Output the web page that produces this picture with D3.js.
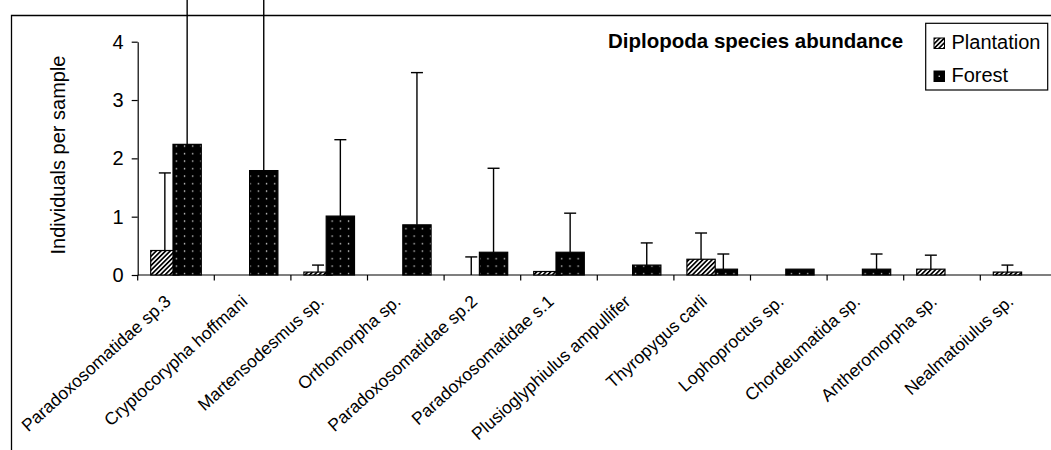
<!DOCTYPE html>
<html>
<head>
<meta charset="utf-8">
<script src="https://cdnjs.cloudflare.com/ajax/libs/d3/7.8.5/d3.min.js"></script>
<style>
  body { margin: 0; background: #fff; }
  svg { display: block; font-family: "Liberation Sans", Arial, sans-serif; }
</style>
</head>
<body>
<svg id="svg"></svg>
<script>

const width = 1051;
const height = 450;

// data
const categories = [
	"Paradoxosomatidae sp.3", "Cryptocorypha hoffmani", "Martensodesmus sp.",
	"Orthomorpha sp.", "Paradoxosomatidae sp.2", "Paradoxosomatidae s.1",
	"Plusioglyphiulus ampullifer", "Thyropygus carli", "Lophoproctus sp.",
	"Chordeumatida sp.", "Antheromorpha sp.", "Nealmatoiulus sp."
];
const plantation    = [0.42, 0, 0.05, 0, 0, 0.06, 0, 0.27, 0, 0, 0.10, 0.05];
const plantationErr = [1.33, 0, 0.12, 0, 0.31, 0, 0, 0.45, 0, 0, 0.24, 0.12];
const forest        = [2.24, 1.79, 1.01, 0.86, 0.39, 0.39, 0.17, 0.10, 0.10, 0.10, 0, 0];
const forestErr     = [3.40, 3.80, 1.31, 2.61, 1.44, 0.67, 0.38, 0.26, 0, 0.26, 0, 0];
const yTicks = [0, 1, 2, 3, 4];
const seriesNames = ["Plantation", "Forest"];
const title = "Diplopoda species abundance";

const svg = d3.select("#svg")
			.attr("width", width)
			.attr("height", height);

// patterns
const defs = svg.append("defs");
const hatch = defs.append("pattern")
			.attr("id", "hatch")
			.attr("patternUnits", "userSpaceOnUse")
			.attr("width", 3.3)
			.attr("height", 3.3)
			.attr("patternTransform", "rotate(45)");
hatch.append("rect").attr("width", 3.3).attr("height", 3.3).attr("fill", "white");
hatch.append("rect").attr("width", 1.7).attr("height", 3.3).attr("fill", "black");

const dots = defs.append("pattern")
			.attr("id", "dots")
			.attr("patternUnits", "userSpaceOnUse")
			.attr("width", 8.2)
			.attr("height", 7.5);
dots.append("rect").attr("width", 8.2).attr("height", 7.5).attr("fill", "black");
dots.append("rect").attr("x", 3.5).attr("y", 3).attr("width", 1.3).attr("height", 1.3).attr("fill", "#e8e8e8");

const fills = ["url(#hatch)", "url(#dots)"];

// chart frame (runs off the right and bottom of the picture)
svg.append("path")
	.attr("d", `M11.5,${height + 5} V15.5 H${width + 5}`)
	.attr("fill", "none")
	.attr("stroke", "black")
	.attr("stroke-width", 1.3);

const x = d3.scaleBand()
			.domain(categories)
			.range([137.7, 137.7 + 76.6 * categories.length])
			.padding(0);

const y = d3.scaleLinear()
			.domain([0, 4])
			.range([275, 41.7]);

const barW = 28.3;
const overlap = 6;

// y axis
const yAxis = svg.append("g")
			.attr("transform", "translate(137.7,0)")
			.call(d3.axisLeft(y).tickValues(yTicks).tickFormat(d3.format("d")).tickSize(6).tickSizeOuter(0).tickPadding(8));
yAxis.select(".domain").attr("stroke-width", 1.2);
yAxis.selectAll(".tick line").attr("stroke-width", 1.2);
yAxis.selectAll("text").style("font-size", "20px").attr("fill", "black");

// x axis: ticks at category boundaries
const xAxis = svg.append("g")
			.attr("transform", "translate(0,275)");
xAxis.append("line")
	.attr("x1", x.range()[0]).attr("x2", x.range()[1])
	.attr("stroke", "black").attr("stroke-width", 1.2);
xAxis.selectAll(".bound")
	.data(categories.concat(["end"]))
	.enter().append("line")
	.attr("x1", (d, i) => x.range()[0] + i * x.bandwidth())
	.attr("x2", (d, i) => x.range()[0] + i * x.bandwidth())
	.attr("y1", 0).attr("y2", 5.5)
	.attr("stroke", "black").attr("stroke-width", 1.2);

// bars: the taller of each pair is drawn last
const bars = [];
categories.forEach(function(c, i) {
	const mid = x(c) + x.bandwidth() / 2;
	const left = mid - (2 * barW - overlap) / 2;
	const pair = [
		{ cat: c, s: 0, v: plantation[i], e: plantationErr[i], x0: left },
		{ cat: c, s: 1, v: forest[i], e: forestErr[i], x0: left + barW - overlap }
	];
	pair.sort((a, b) => a.v - b.v);
	bars.push(pair[0], pair[1]);
});

const barLayer = svg.append("g");
barLayer.selectAll("rect")
	.data(bars)
	.enter().append("rect")
	.attr("x", d => d.x0)
	.attr("y", d => y(d.v))
	.attr("width", barW)
	.attr("height", d => y(0) - y(d.v))
	.attr("fill", d => fills[d.s])
	.attr("stroke", "black")
	.attr("stroke-width", 1.2);

// error bars (upper only)
const errs = bars.filter(d => d.e > 0);
const errLayer = svg.append("g")
			.attr("stroke", "black")
			.attr("stroke-width", 1.4);
errLayer.selectAll(".stem")
	.data(errs)
	.enter().append("line")
	.attr("x1", d => d.x0 + barW / 2)
	.attr("x2", d => d.x0 + barW / 2)
	.attr("y1", d => y(d.v))
	.attr("y2", d => y(d.v + d.e));
errLayer.selectAll(".cap")
	.data(errs)
	.enter().append("line")
	.attr("x1", d => d.x0 + barW / 2 - 6)
	.attr("x2", d => d.x0 + barW / 2 + 6)
	.attr("y1", d => y(d.v + d.e))
	.attr("y2", d => y(d.v + d.e));

// category labels
svg.append("g").selectAll("text")
	.data(categories)
	.enter().append("text")
	.attr("transform", d => `translate(${x(d) + x.bandwidth() / 2 - 4},303) rotate(-42)`)
	.attr("text-anchor", "end")
	.style("font-size", "17.5px")
	.text(d => d);

// axis title
svg.append("text")
	.attr("transform", "translate(65,155) rotate(-90)")
	.attr("text-anchor", "middle")
	.style("font-size", "20px")
	.text("Individuals per sample");

// chart title
svg.append("text")
	.attr("x", 608)
	.attr("y", 48)
	.style("font-size", "20.5px")
	.style("font-weight", "bold")
	.text(title);

// legend
const legend = svg.append("g");
legend.append("rect")
	.attr("x", 925.7).attr("y", 23.3)
	.attr("width", 122).attr("height", 66.7)
	.attr("fill", "white")
	.attr("stroke", "black")
	.attr("stroke-width", 1.2);
const items = legend.selectAll(".item")
	.data(seriesNames)
	.enter().append("g")
	.attr("transform", (d, i) => `translate(934,${38 + i * 33})`);
items.append("rect")
	.attr("width", 10.5).attr("height", 10.5)
	.attr("fill", (d, i) => i === 0 ? "url(#hatch)" : "black")
	.attr("stroke", "black")
	.attr("stroke-width", 1);
items.filter((d, i) => i === 1).append("rect")
	.attr("x", 4.6).attr("y", 4.6).attr("width", 1.3).attr("height", 1.3)
	.attr("fill", "#e8e8e8");
items.append("text")
	.attr("x", 17.5)
	.attr("y", 10.5)
	.style("font-size", "20px")
	.text(d => d);

</script>
</body>
</html>
